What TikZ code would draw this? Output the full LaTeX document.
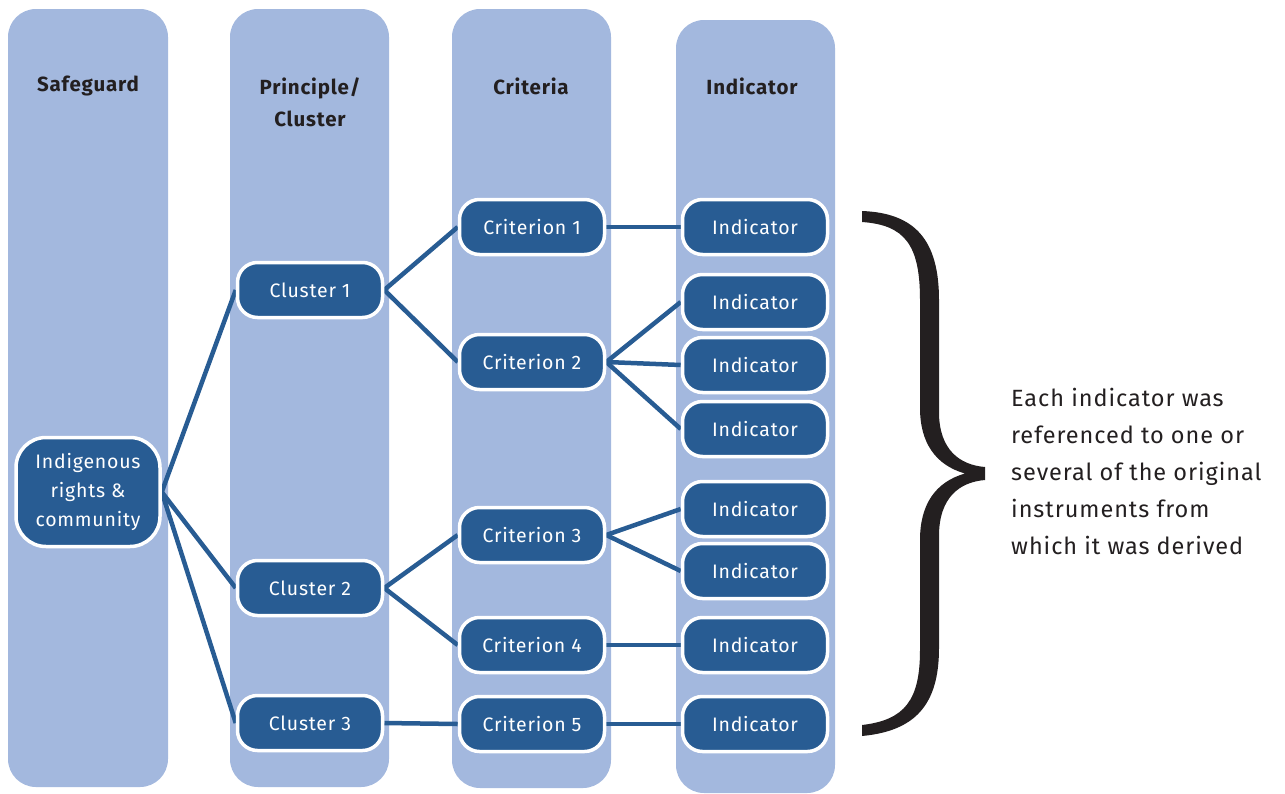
\documentclass[tikz,border=0pt]{standalone}
\usepackage{fontspec}
\setmainfont{Fira Sans}[LetterSpace=4]
\definecolor{colbg}{HTML}{A3B8DE}
\definecolor{nodebl}{HTML}{285C93}
\definecolor{ink}{HTML}{231F20}
\pgfdeclarelayer{bg}
\pgfdeclarelayer{links}
\pgfsetlayers{bg,links,main}
\begin{document}
\begin{tikzpicture}[x=1pt,y=-1pt,
  column/.style={fill=colbg, rounded corners=28pt},
  box/.style={draw=white, line width=3.5pt, fill=nodebl, rounded corners=20pt,
    minimum width=145pt, minimum height=55pt, text=white, inner sep=0pt,
    font=\fontsize{19.5}{29}\selectfont, align=center},
  hdr/.style={text=ink, font=\fontsize{20.5}{32}\selectfont\bfseries, align=center},
  link/.style={draw=nodebl, line width=4.5pt},
  note/.style={text=ink, font=\fontsize{23.5}{37}\selectfont, align=left, anchor=north west, inner sep=0pt}]
\useasboundingbox (0,0) rectangle (1285,793);
\begin{pgfonlayer}{bg}
  \fill[column] (8,9) rectangle (168,787);
  \fill[column] (230,9) rectangle (389,787);
  \fill[column] (452,9) rectangle (611,788);
  \fill[column] (676,20) rectangle (835,793);
\end{pgfonlayer}
\node[hdr] (h1) at (88,86) {Safeguard};
\node[hdr] (h2) at (310,102) {Principle/\\Cluster};
\node[hdr] (h3) at (531,86) {Criteria};
\node[hdr] (h4) at (752,86) {Indicator};

\node[box, minimum width=144pt, minimum height=109pt, rounded corners=30pt] (ind) at (88,492) {Indigenous\\rights \&\\community};
\node[box] (cl1) at (310,290) {Cluster 1};
\node[box] (cl2) at (310,588) {Cluster 2};
\node[box] (cl3) at (310,723) {Cluster 3};
\node[box] (cr1) at (532,227) {Criterion 1};
\node[box] (cr2) at (532,362) {Criterion 2};
\node[box] (cr3) at (532,535) {Criterion 3};
\node[box] (cr4) at (532,645) {Criterion 4};
\node[box] (cr5) at (532,724) {Criterion 5};
\node[box] (i1) at (755,227) {Indicator};
\node[box] (i2) at (755,302) {Indicator};
\node[box] (i3) at (755,365) {Indicator};
\node[box] (i4) at (755,429) {Indicator};
\node[box] (i5) at (755,509) {Indicator};
\node[box] (i6) at (755,571) {Indicator};
\node[box] (i7) at (755,645) {Indicator};
\node[box] (i8) at (755,724) {Indicator};

\begin{pgfonlayer}{links}
  \draw[link] (ind.east) -- (cl1.west);
  \draw[link] (ind.east) -- (cl2.west);
  \draw[link] (ind.east) -- (cl3.west);
  \draw[link] (cl1.east) -- (cr1.west);
  \draw[link] (cl1.east) -- (cr2.west);
  \draw[link] (cl2.east) -- (cr3.west);
  \draw[link] (cl2.east) -- (cr4.west);
  \draw[link] (cl3.east) -- (cr5.west);
  \draw[link] (cr1.east) -- (i1.west);
  \draw[link] (cr2.east) -- (i2.west);
  \draw[link] (cr2.east) -- (i3.west);
  \draw[link] (cr2.east) -- (i4.west);
  \draw[link] (cr3.east) -- (i5.west);
  \draw[link] (cr3.east) -- (i6.west);
  \draw[link] (cr4.east) -- (i7.west);
  \draw[link] (cr5.east) -- (i8.west);
\end{pgfonlayer}

% brace
\fill[ink] (862,211) .. controls (915,213) and (939,240) .. (939,300)
  -- (939,412) .. controls (939,450) and (960,465) .. (985,467)
  -- (985,480) .. controls (960,482) and (939,497) .. (939,536)
  -- (939,648) .. controls (939,705) and (915,731) .. (862,736)
  -- (862,725) .. controls (905,720) and (920,700) .. (920,650)
  -- (920,540) .. controls (920,505) and (935,482) .. (965,473.5)
  .. controls (935,465) and (920,442) .. (920,408)
  -- (920,300) .. controls (920,245) and (905,225) .. (862,222) -- cycle;

\node[note] (txt) at (1011,388) {Each indicator was\\referenced to one or\\several of the original\\instruments from\\which it was derived};
\end{tikzpicture}
\end{document}
